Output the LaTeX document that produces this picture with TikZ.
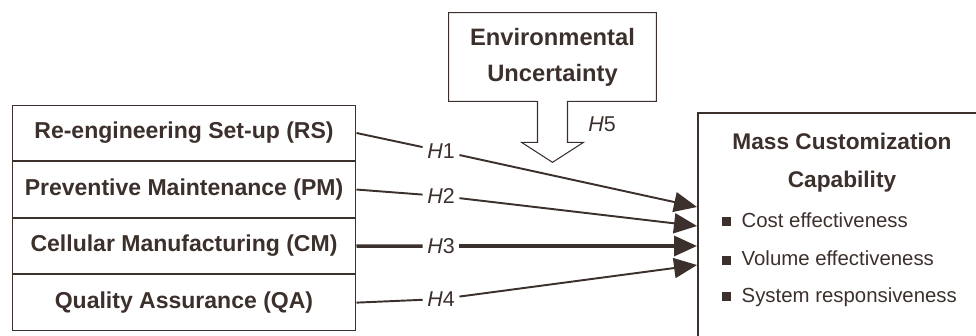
\documentclass[tikz,border=0pt]{standalone}
\usepackage{fontspec}
\setmainfont{Liberation Sans}
\usepackage{tikz}
\usetikzlibrary{arrows.meta}
\usetikzlibrary{positioning}

\definecolor{ink}{RGB}{60,48,44}
\newcommand{\sqbullet}{\raisebox{0.6pt}{\rule{5pt}{5pt}}\hspace{6pt}}

\tikzset{
    factor/.style = {draw = ink, line width = 0.6pt, minimum width = 6.88cm,
        minimum height = 1.11cm, inner sep = 0, text = ink,
        font = \fontsize{13.1}{15}\selectfont\bfseries},
    envbox/.style = {minimum width = 4.14cm, minimum height = 1.76cm,
        inner sep = 0, align = center, text = ink,
        font = \fontsize{13.5}{20.5}\selectfont\bfseries},
    boxline/.style = {draw = ink, line width = 0.6pt},
    hyp/.style = {text = ink, inner sep = 2.5pt,
        font = \fontsize{12.2}{14}\selectfont},
    link/.style = {draw = ink, line width = 1.1pt},
    biglink/.style = {draw = ink, line width = 2pt},
    tip/.style = {-{Triangle[length = 0.46cm, width = 0.4cm]}},
    mcctitle/.style = {align = center, text = ink,
        font = \fontsize{12.9}{22}\selectfont\bfseries},
    bulletitem/.style = {anchor = west, inner sep = 0, text = ink,
        font = \fontsize{11.6}{14}\selectfont}
}

\begin{document}
\begin{tikzpicture}[x = 0.02cm, y = -0.02cm]
    \useasboundingbox (0, 0) rectangle (976, 335);

    %% practices
    \node[factor] (rs) at (184, 133) {Re-engineering Set-up (RS)};
    \node[factor, below = 0pt of rs] (pm) {Preventive Maintenance (PM)};
    \node[factor, below = 0pt of pm] (cm) {Cellular Manufacturing (CM)};
    \node[factor, below = 0pt of cm] (qa) {Quality Assurance (QA)};

    %% moderator
    \node[envbox] (env) at (552.5, 57) {Environmental\\Uncertainty};
    \draw[boxline] ([xshift = -0.3cm]env.south) -- (env.south west)
        -- (env.north west) -- (env.north east) -- (env.south east)
        -- ([xshift = 0.3cm]env.south) -- ++(0, -0.82cm) -- ++(0.32cm, 0)
        -- ([yshift = -1.22cm]env.south) -- ++(-0.62cm, 0.4cm)
        -- ++(0.32cm, 0) -- cycle;
    \node[hyp] (h5) at (602, 124) {\textit{H}5};

    %% outcome
    \node[anchor = north west, minimum width = 5.56cm, minimum height = 4.44cm,
        inner sep = 0] (mcc) at (698, 113) {};
    \draw[boxline] (mcc.north east) -- (mcc.north west) -- (mcc.south west);
    \node[mcctitle] (title) at (842, 162.5) {Mass Customization\\Capability};
    \node[bulletitem] (cost) at (722, 220) {\sqbullet Cost effectiveness};
    \node[bulletitem] (volume) at (722, 258.5) {\sqbullet Volume effectiveness};
    \node[bulletitem] (resp) at (722, 297) {\sqbullet System responsiveness};

    %% hypotheses
    \node[hyp] (h1) at (441, 151) {\textit{H}1};
    \node[hyp] (h2) at (441, 196) {\textit{H}2};
    \node[hyp] (h3) at (441, 246) {\textit{H}3};
    \node[hyp] (h4) at (441, 299) {\textit{H}4};

    \coordinate (t1) at (697, 207);
    \coordinate (t2) at (697, 226);
    \coordinate (t3) at (697, 246);
    \coordinate (t4) at (697, 265);

    \draw[link] (rs.east) -- (h1);
    \draw[link, tip] (h1) -- (t1);
    \draw[link] (pm.east) -- (h2);
    \draw[link, tip] (h2) -- (t2);
    \draw[biglink] (cm.east) -- (h3);
    \draw[biglink, tip] (h3) -- (t3);
    \draw[link] (qa.east) -- (h4);
    \draw[link, tip] (h4) -- (t4);
\end{tikzpicture}
\end{document}
